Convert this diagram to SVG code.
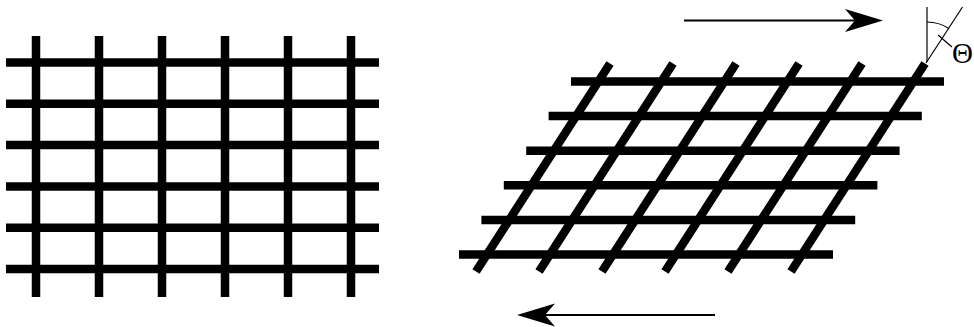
<svg xmlns="http://www.w3.org/2000/svg" width="974" height="327" viewBox="0 0 974 327">
<style>
.bar{stroke:#000;stroke-width:8.5;stroke-linecap:butt;fill:none}
.thin{stroke:#000;stroke-width:1.2;fill:none}
.arr{stroke:#000;stroke-width:2;fill:none}
.lbl{font-family:"Liberation Serif",serif;font-size:29px;fill:#000}
</style>
<defs>
<path id="head" d="M0,0 L-38,-11.5 L-28,0 L-38,11.5 Z" fill="#000"/>
</defs>
<rect width="974" height="327" fill="#fff"/>
<g id="square-grid">
<line class="bar" x1="36" y1="36" x2="36" y2="297"/>
<line class="bar" x1="99" y1="36" x2="99" y2="297"/>
<line class="bar" x1="162" y1="36" x2="162" y2="297"/>
<line class="bar" x1="225" y1="36" x2="225" y2="297"/>
<line class="bar" x1="288" y1="36" x2="288" y2="297"/>
<line class="bar" x1="351" y1="36" x2="351" y2="297"/>
<line class="bar" x1="6" y1="62.5" x2="379" y2="62.5"/>
<line class="bar" x1="6" y1="103.8" x2="379" y2="103.8"/>
<line class="bar" x1="6" y1="145.1" x2="379" y2="145.1"/>
<line class="bar" x1="6" y1="186.4" x2="379" y2="186.4"/>
<line class="bar" x1="6" y1="227.7" x2="379" y2="227.7"/>
<line class="bar" x1="6" y1="269" x2="379" y2="269"/>
</g>
<g id="sheared-grid">
<line class="bar" x1="571" y1="81.5" x2="944" y2="81.5"/>
<line class="bar" x1="548.6" y1="116.1" x2="921.8" y2="116.1"/>
<line class="bar" x1="526.2" y1="150.7" x2="899.6" y2="150.7"/>
<line class="bar" x1="503.8" y1="185.3" x2="877.4" y2="185.3"/>
<line class="bar" x1="481.4" y1="219.9" x2="855.2" y2="219.9"/>
<line class="bar" x1="459" y1="254.5" x2="833" y2="254.5"/>
<line class="bar" x1="610" y1="63.5" x2="476" y2="271.5"/>
<line class="bar" x1="673" y1="63.5" x2="539" y2="271.5"/>
<line class="bar" x1="736" y1="63.5" x2="602" y2="271.5"/>
<line class="bar" x1="799" y1="63.5" x2="665" y2="271.5"/>
<line class="bar" x1="862" y1="63.5" x2="728" y2="271.5"/>
<line class="bar" x1="925" y1="63.5" x2="791" y2="271.5"/>
</g>
<g id="connectors">
<line class="arr" x1="684" y1="20.5" x2="858" y2="20.5"/>
<use href="#head" transform="translate(883,20.5)"/>
<line class="arr" x1="715" y1="315" x2="543" y2="315"/>
<use href="#head" transform="translate(517,315) rotate(180)"/>
</g>
<g id="angle">
<line class="thin" x1="927" y1="62" x2="927" y2="7"/>
<line class="thin" x1="926" y1="63" x2="962.5" y2="7"/>
<path class="thin" d="M927,22 A40,40 0 0 1 948.8,28.5"/>
<line class="thin" x1="938" y1="35" x2="952" y2="47"/>
<text class="lbl" x="952" y="63">Θ</text>
</g>
</svg>
